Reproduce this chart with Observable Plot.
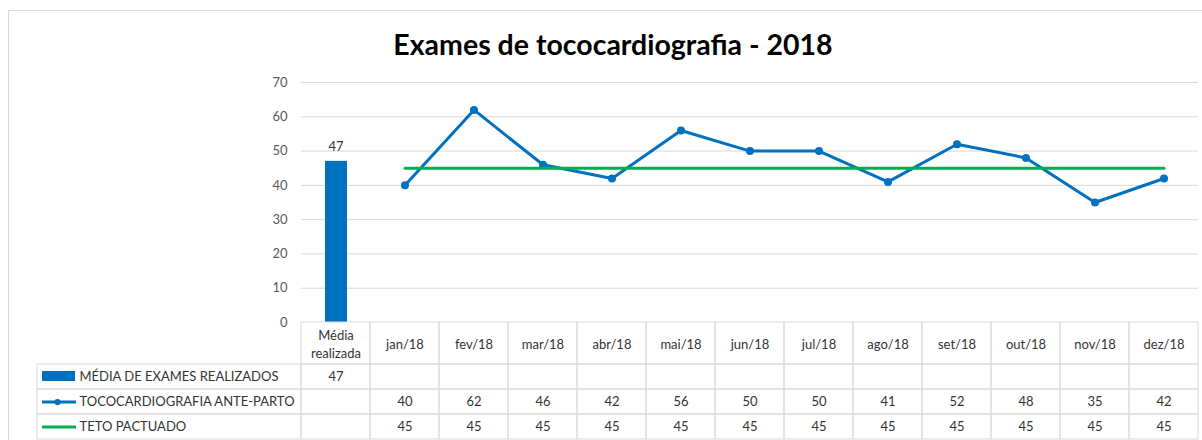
<!DOCTYPE html>
<html>
<head>
<meta charset="utf-8">
<script src="https://cdn.jsdelivr.net/npm/d3@7"></script>
<script src="https://cdn.jsdelivr.net/npm/@observablehq/plot@0.6"></script>
<style>
  html, body { margin: 0; padding: 0; background: #fff; }
  body { width: 1202px; height: 440px; position: relative; overflow: hidden; font-family: Lato, "Noto Sans", sans-serif; }
  #frame { position: absolute; left: 8px; top: 10px; width: 1210px; height: 450px; border: 1px solid #d9d9d9; box-sizing: border-box; }
  #title { position: absolute; left: 0; width: 1226px; top: 26px; text-align: center; font-weight: bold; font-size: 28.5px; line-height: 36px; color: #000; font-family: Lato, "Open Sans", sans-serif; }
  .part { position: absolute; }
  .part svg { overflow: visible; display: block; }
</style>
</head>
<body>
<div id="frame"></div>
<div id="title">Exames de tococardiografia - 2018</div>
<div id="chart" class="part" style="left:0;top:70px"></div>
<div id="header" class="part" style="left:0;top:322px"></div>
<div id="body" class="part" style="left:0;top:364px"></div>
<div id="legend" class="part" style="left:37px;top:364px"></div>
<script>
// ---- data ----
const categories = ["Média realizada", "jan/18", "fev/18", "mar/18", "abr/18", "mai/18", "jun/18", "jul/18", "ago/18", "set/18", "out/18", "nov/18", "dez/18"];
const months = ["jan/18", "fev/18", "mar/18", "abr/18", "mai/18", "jun/18", "jul/18", "ago/18", "set/18", "out/18", "nov/18", "dez/18"];
const mediaCategory = "Média realizada";
const mediaValue = 47;
const tococardiografia = [40, 62, 46, 42, 56, 50, 50, 41, 52, 48, 35, 42];
const teto = [45, 45, 45, 45, 45, 45, 45, 45, 45, 45, 45, 45];
const seriesNames = ["MÉDIA DE EXAMES REALIZADOS", "TOCOCARDIOGRAFIA ANTE-PARTO", "TETO PACTUADO"];
const yTicks = [0, 10, 20, 30, 40, 50, 60, 70];

const BLUE = "#0070C0", GREEN = "#00B050", GRID = "#d9d9d9", TXT = "#333333";
const FONT = "Lato, 'Noto Sans', sans-serif";

const bars = [{cat: mediaCategory, value: mediaValue}];
const tocoData = months.map((m, i) => ({cat: m, value: tococardiografia[i]}));
const tetoData = months.map((m, i) => ({cat: m, value: teto[i]}));

const xCommon = {domain: categories, padding: 0, axis: null, label: null};
const W = 1202, ML = 301, MR = 4;

// ---- chart ----
const chart = Plot.plot({
  width: W, height: 252,
  marginLeft: ML, marginRight: MR, marginTop: 12, marginBottom: 0,
  style: {fontFamily: FONT, fontSize: "13px", background: "transparent"},
  x: {...xCommon, type: "band"},
  y: {domain: [0, 70], ticks: yTicks, axis: null, label: null},
  marks: [
    Plot.gridY(yTicks.filter(t => t > 0), {stroke: GRID, strokeOpacity: 1, strokeWidth: 1}),
    Plot.axisY({ticks: yTicks, tickSize: 0, tickPadding: 14, fill: "#595959", fontSize: 13, label: null}),
    Plot.barY(bars, {x: "cat", y: "value", fill: BLUE, insetLeft: 24, insetRight: 23}),
    Plot.text(bars, {x: "cat", y: "value", text: d => String(d.value), dy: -15, fill: TXT, fontSize: 13}),
    Plot.line(tocoData, {x: "cat", y: "value", stroke: BLUE, strokeWidth: 3}),
    Plot.dot(tocoData, {x: "cat", y: "value", fill: BLUE, r: 4}),
    Plot.line(tetoData, {x: "cat", y: "value", stroke: GREEN, strokeWidth: 3})
  ]
});
document.getElementById("chart").append(chart);

// ---- header row of the data table ----
const headerLabel = c => c === mediaCategory ? "Média\nrealizada" : c;
const header = Plot.plot({
  width: W, height: 42,
  marginLeft: ML, marginRight: MR, marginTop: 0, marginBottom: 0,
  style: {fontFamily: FONT, fontSize: "13px", background: "transparent"},
  x: {...xCommon, type: "band"},
  marks: [
    Plot.cell(categories, {x: d => d, fill: "none", stroke: GRID, strokeWidth: 1}),
    Plot.text(categories, {x: d => d, text: headerLabel, fill: TXT, fontSize: 13, lineHeight: 1.35})
  ]
});
document.getElementById("header").append(header);

// ---- body of the data table ----
const tableCells = seriesNames.flatMap(s => categories.map(c => ({series: s, cat: c})));
const tableValues = [
  ...bars.map(d => ({series: seriesNames[0], cat: d.cat, value: d.value})),
  ...tocoData.map(d => ({series: seriesNames[1], cat: d.cat, value: d.value})),
  ...tetoData.map(d => ({series: seriesNames[2], cat: d.cat, value: d.value}))
];
const body = Plot.plot({
  width: W, height: 75,
  marginLeft: ML, marginRight: MR, marginTop: 0, marginBottom: 0,
  style: {fontFamily: FONT, fontSize: "13px", background: "transparent"},
  x: {...xCommon, type: "band"},
  y: {domain: seriesNames, type: "band", padding: 0, axis: null, label: null},
  marks: [
    Plot.cell(tableCells, {x: "cat", y: "series", fill: "none", stroke: GRID, strokeWidth: 1}),
    Plot.text(tableValues, {x: "cat", y: "series", text: d => String(d.value), fill: TXT, fontSize: 13})
  ]
});
document.getElementById("body").append(body);

// ---- legend column of the data table ----
const legend = Plot.plot({
  width: 264, height: 75,
  marginLeft: 0, marginRight: 0, marginTop: 0, marginBottom: 0,
  style: {fontFamily: FONT, fontSize: "13px", background: "transparent"},
  y: {domain: seriesNames, type: "band", padding: 0, axis: null, label: null},
  marks: [
    Plot.cell(seriesNames, {y: d => d, fill: "none", stroke: GRID, strokeWidth: 1}),
    Plot.cell([seriesNames[0]], {y: d => d, fill: BLUE, insetLeft: 5, insetRight: 226, insetTop: 7, insetBottom: 8}),
    Plot.ruleY([seriesNames[1]], {y: d => d, stroke: BLUE, strokeWidth: 3, insetLeft: 5, insetRight: 225}),
    Plot.text([seriesNames[1]], {y: d => d, text: () => "●", frameAnchor: "left", dx: 16, fill: BLUE, fontSize: 13}),
    Plot.ruleY([seriesNames[2]], {y: d => d, stroke: GREEN, strokeWidth: 3, insetLeft: 5, insetRight: 225}),
    Plot.text(seriesNames, {y: d => d, text: d => d, frameAnchor: "left", dx: 42, fill: TXT, fontSize: 13})
  ]
});
document.getElementById("legend").append(legend);
</script>
</body>
</html>
